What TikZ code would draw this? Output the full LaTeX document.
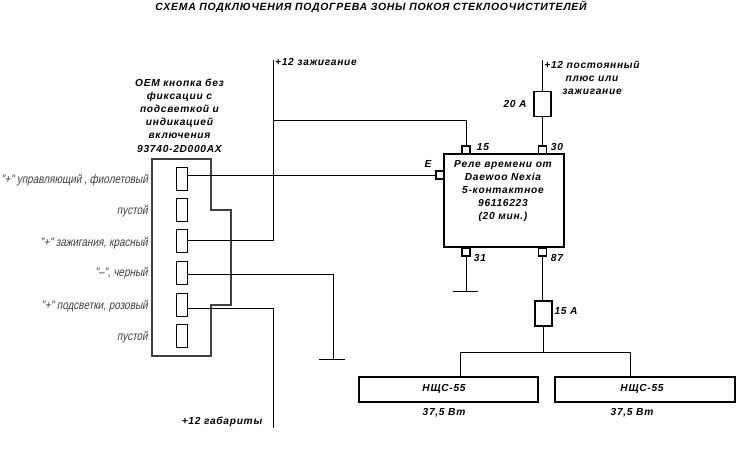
\documentclass[tikz,border=0pt]{standalone}
\usepackage{fontspec}
\setmainfont{Liberation Sans}
\newfontfamily\pinfont[FakeStretch=0.81,FakeSlant=0.2]{Liberation Sans}
\newfontfamily\boldfont[LetterSpace=7,BoldFont={Liberation Sans Bold}]{Liberation Sans Bold Italic}
\begin{document}
\begin{tikzpicture}[x=1pt, y=-1pt,
    wire/.style={line width=0.8pt},
    pinbox/.style={draw, line width=0.9pt, minimum width=11pt, minimum height=23pt, inner sep=0pt},
    stubbox/.style={draw, line width=1.2pt, minimum width=8pt, minimum height=8pt, inner sep=0pt},
    fusebox/.style={draw, line width=1.4pt, minimum width=17pt, minimum height=25pt, inner sep=0pt},
    loadbox/.style={draw, line width=1.4pt, minimum width=179pt, minimum height=25pt, inner sep=0pt},
    boldlabel/.style={font=\boldfont\fontsize{10.2}{13.2}\selectfont, align=center, inner sep=0pt},
    pinlabel/.style={left, inner sep=0pt, text=black!75, font=\pinfont\fontsize{12.3}{13}\selectfont}]
    \useasboundingbox (0,0) rectangle (750,450);
    \node[inner sep=0pt, font=\boldfont\fontsize{10.45}{12}\selectfont] (title) at (371,6.5) {СХЕМА ПОДКЛЮЧЕНИЯ ПОДОГРЕВА ЗОНЫ ПОКОЯ СТЕКЛООЧИСТИТЕЛЕЙ};
    % button
    \node[boldlabel] (oem) at (179.5,115.5) {OEM кнопка без\\фиксации с\\подсветкой и\\индикацией\\включения\\93740-2D000AX};
    \draw[line width=1.1pt, black!75] (152,159) -- (211,159) -- (211,210) -- (231,210) -- (231,305) -- (211,305) -- (211,356) -- (152,356) -- cycle;
    \node[pinbox] (pinA) at (181.5,178.5) {};
    \node[pinbox] (pinB) at (181.5,210) {};
    \node[pinbox] (pinC) at (181.5,241) {};
    \node[pinbox] (pinD) at (181.5,273) {};
    \node[pinbox] (pinE) at (181.5,305) {};
    \node[pinbox] (pinF) at (181.5,336) {};
    \node[pinlabel] (labA) at (148,180) {"+" управляющий , фиолетовый};
    \node[pinlabel] (labB) at (148,211) {пустой};
    \node[pinlabel] (labC) at (148,243) {"+" зажигания, красный};
    \node[pinlabel] (labD) at (148,273) {"–", черный};
    \node[pinlabel] (labE) at (148,306) {"+" подсветки, розовый};
    \node[pinlabel] (labF) at (148,337) {пустой};
    % relay
    \node[draw, line width=1.5pt, minimum width=120pt, minimum height=93pt, inner sep=0pt] (relay) at (504,200.5) {};
    \node[boldlabel] (relaytext) at (503,191) {Реле времени от\\Daewoo Nexia\\5-контактное\\96116223\\(20 мин.)};
    \node[stubbox] (stubE) at (440,175) {};
    \node[stubbox] (stub15) at (466,150) {};
    \node[stubbox] (stub30) at (542.5,150) {};
    \node[stubbox] (stub31) at (466,252) {};
    \node[stubbox] (stub87) at (542.5,252) {};
    \node[boldlabel] (labE2) at (428,164) {E};
    \node[boldlabel] (lab15) at (483,147) {15};
    \node[boldlabel] (lab30) at (557,147) {30};
    \node[boldlabel] (lab31) at (480,258) {31};
    \node[boldlabel] (lab87) at (557,258) {87};
    % fuses
    \node[fusebox] (fuseT) at (542.5,104) {};
    \node[fusebox] (fuseB) at (543.5,313.5) {};
    \node[boldlabel] (lab20) at (515,104) {20 А};
    \node[boldlabel] (lab15a) at (566,311) {15 А};
    % loads
    \node[loadbox] (loadL) at (448.5,389.5) {};
    \node[loadbox, minimum width=180pt] (loadR) at (645,389.5) {};
    \node[boldlabel] (nameL) at (444,388.5) {НЩС-55};
    \node[boldlabel] (nameR) at (642,388.5) {НЩС-55};
    \node[boldlabel] (wattL) at (444,413) {37,5 Вт};
    \node[boldlabel] (wattR) at (632,413) {37,5 Вт};
    % free ends
    \coordinate (ignTop) at (273,60);
    \coordinate (ignBranch) at (273,120);
    \coordinate (ignPin) at (273,240);
    \coordinate (feedTop) at (542.5,60);
    \coordinate (gabTurn) at (273,308);
    \coordinate (gabEnd) at (273,428);
    \coordinate (gndTurn) at (333,274);
    \coordinate (gndA) at (333,359);
    \coordinate (gndAL) at (319,359);
    \coordinate (gndAR) at (345,359);
    \coordinate (gndB) at (466,291);
    \coordinate (gndBL) at (453,291);
    \coordinate (gndBR) at (478,291);
    \coordinate (busMid) at (543.5,352);
    \coordinate (busL) at (460,352);
    \coordinate (busR) at (630,352);
    \node[boldlabel, right] (ign) at (275,62) {+12 зажигание};
    \node[boldlabel] (feed) at (592,78) {+12 постоянный\\плюс или\\зажигание};
    \node[boldlabel] (gab) at (222,421.5) {+12 габариты};
    % wires
    \draw[wire] (pinA.east |- stubE) -- (stubE.west);
    \draw[wire] (pinC.east |- ignPin) -- (ignPin) -- (ignTop);
    \draw[wire] (ignBranch) -- (ignBranch -| stub15) -- (stub15.north);
    \draw[wire] (pinD.east |- gndTurn) -- (gndTurn) -- (gndA);
    \draw[wire] (gndAL) -- (gndAR);
    \draw[wire] (pinE.east |- gabTurn) -- (gabTurn) -- (gabEnd);
    \draw[wire] (feedTop) -- (fuseT.north);
    \draw[wire] (fuseT.south) -- (stub30.north);
    \draw[wire] (stub31.south) -- (gndB);
    \draw[wire] (gndBL) -- (gndBR);
    \draw[wire] (stub87.south) -- (stub87.south |- fuseB.north);
    \draw[wire] (fuseB.south) -- (busMid);
    \draw[wire] (loadL.north -| busL) -- (busL) -- (busR) -- (loadR.north -| busR);
\end{tikzpicture}
\end{document}
